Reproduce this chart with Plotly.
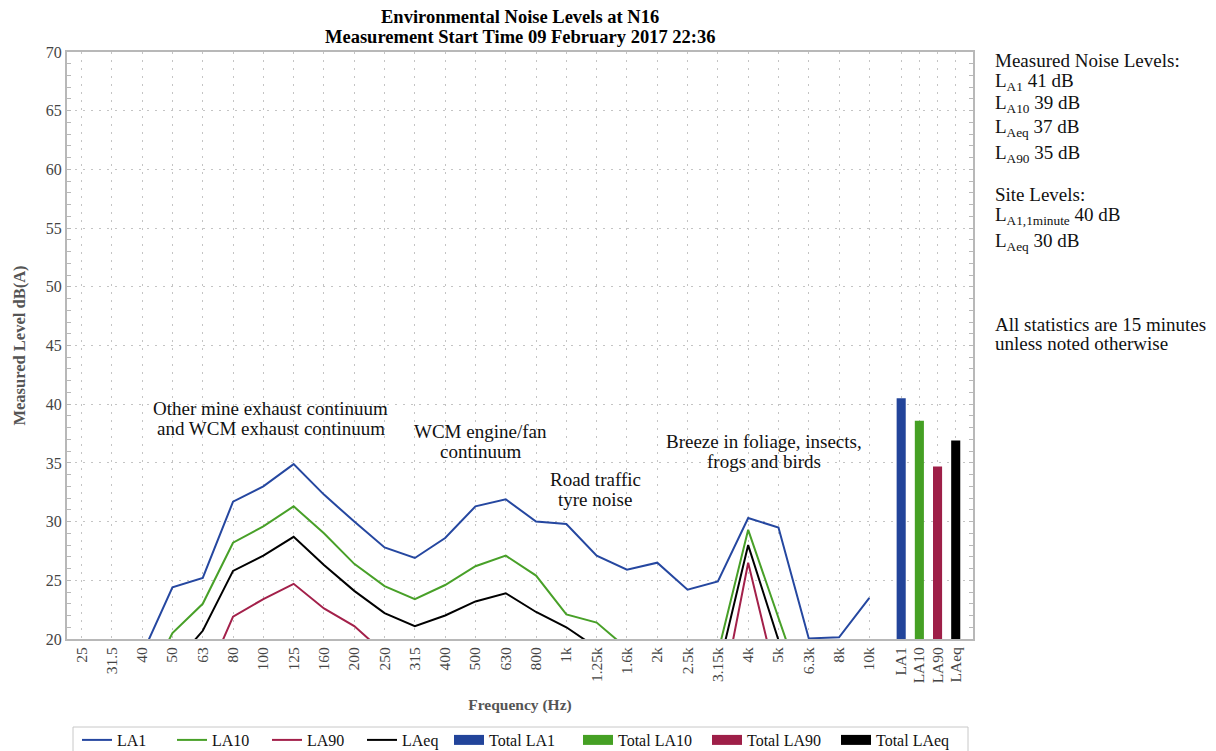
import plotly.graph_objects as go

# ---------------- data ----------------
freq_labels = ["25", "31.5", "40", "50", "63", "80", "100", "125", "160", "200",
               "250", "315", "400", "500", "630", "800", "1k", "1.25k", "1.6k",
               "2k", "2.5k", "3.15k", "4k", "5k", "6.3k", "8k", "10k"]
la1 = [16.0, 17.0, 18.7, 24.4, 25.2, 31.7, 33.0, 34.9, 32.3, 30.0, 27.8, 26.9,
       28.6, 31.3, 31.9, 30.0, 29.8, 27.1, 25.9, 26.5, 24.2, 24.9, 30.3, 29.5,
       20.05, 20.15, 23.5]
la10 = [13.0, 14.0, 15.5, 20.5, 23.0, 28.2, 29.6, 31.3, 29.0, 26.4, 24.5, 23.4,
        24.6, 26.2, 27.1, 25.4, 22.1, 21.4, 19.2, 17.0, 16.0, 18.8, 29.3, 21.8,
        14.3, 13.0, 14.0]
la90 = [10.0, 11.0, 12.0, 14.0, 16.0, 21.9, 23.4, 24.7, 22.6, 21.1, 18.8, 17.0,
        17.5, 18.0, 18.5, 17.5, 16.0, 15.0, 14.0, 13.0, 12.0, 13.3, 26.5, 15.8,
        10.0, 9.0, 10.0]
laeq = [12.0, 13.0, 14.5, 17.7, 20.7, 25.8, 27.1, 28.7, 26.3, 24.1, 22.2, 21.1,
        22.0, 23.2, 23.9, 22.3, 21.0, 19.25, 17.5, 17.0, 16.0, 17.2, 28.0, 19.9,
        13.0, 12.0, 13.0]
total_labels = ["LA1", "LA10", "LA90", "LAeq"]
total_values = [40.5, 38.6, 34.7, 36.9]
title_lines = ["Environmental Noise Levels at N16",
               "Measurement Start Time 09 February 2017 22:36"]

# ---------------- styling ----------------
FONT = "Liberation Serif"
C_BLUE, C_GREEN, C_RED, C_BLACK = "#2547a0", "#48a028", "#a3204a", "#000000"
BAR_COLORS = ["#22449a", "#45a024", "#9e1f48", "#000000"]
GRID = "#c4c4c4"
AXIS = "#b8b8b8"

x_freq = list(range(len(freq_labels)))
x_tot = [len(freq_labels) + 0.05 + 0.6 * k for k in range(len(total_labels))]

fig = go.Figure()
for name, vals, col in [("LA1", la1, C_BLUE), ("LA10", la10, C_GREEN),
                        ("LA90", la90, C_RED), ("LAeq", laeq, C_BLACK)]:
    fig.add_trace(go.Scatter(x=x_freq, y=vals, mode="lines", name=name,
                             line=dict(color=col, width=2), legend="legend"))
for k, (lab, val, col) in enumerate(zip(total_labels, total_values, BAR_COLORS)):
    fig.add_trace(go.Bar(x=[x_tot[k]], y=[val], name="Total " + lab,
                         marker=dict(color=col, line=dict(width=0)), width=0.3,
                         showlegend=False))
    # legend-only entry with a wide block symbol
    fig.add_trace(go.Scatter(x=[None], y=[None], mode="lines", name="Total " + lab,
                             line=dict(color=col, width=10), legend="legend2"))

# the page body adds an 8px offset; lay out in screen pixels and subtract it
OFF = 8
W, H = 1216 - OFF, 751 - OFF
L, T = 67 - OFF, 52 - OFF
pw, ph = 906, 587
R, B = W - L - pw, H - T - ph

def px_x(p):  # screen px -> paper
    return (p - OFF - L) / pw

def px_y(p):
    return (T + ph - (p - OFF)) / ph

fig.update_layout(
    width=W, height=H,
    margin=dict(l=L, r=R, t=T, b=B, autoexpand=False),
    paper_bgcolor="white", plot_bgcolor="white",
    font=dict(family=FONT, size=16, color="#222"),
    showlegend=True,
    barmode="overlay",
    legend=dict(orientation="h", xref="container", yref="container",
                x=(82 - 5 - OFF) / W, xanchor="left", y=1 - (723 - OFF) / H, yanchor="top",
                font=dict(size=16, color="#111"), entrywidth=50, entrywidthmode="pixels",
                bgcolor="rgba(0,0,0,0)", borderwidth=0, traceorder="normal"),
    legend2=dict(orientation="h", xref="container", yref="container",
                 x=(455 - 6 - OFF) / W, xanchor="left", y=1 - (723 - OFF) / H, yanchor="top",
                 font=dict(size=16, color="#111"), entrywidth=84, entrywidthmode="pixels",
                 bgcolor="rgba(0,0,0,0)", borderwidth=0, traceorder="normal"),
)

fig.update_xaxes(
    range=[-0.48, 29.42], automargin=False,
    tickmode="array", tickvals=x_freq + x_tot, ticktext=freq_labels + total_labels,
    tickangle=-90, tickfont=dict(size=15.5, color="#444"),
    showgrid=True, gridcolor=GRID, griddash="2px,6px", gridwidth=1,
    showline=True, linecolor=AXIS, linewidth=2, mirror=True,
    ticks="", zeroline=False,
    title=dict(text="<b>Frequency (Hz)</b>", font=dict(size=15.5, color="#555"), standoff=17),
)
fig.update_yaxes(
    range=[20, 70], dtick=5, tick0=20, automargin=False,
    tickfont=dict(size=16, color="#444"),
    showgrid=True, gridcolor=GRID, griddash="2px,6px", gridwidth=1,
    showline=True, linecolor=AXIS, linewidth=2, mirror="ticks",
    ticks="inside", ticklen=4, tickcolor=AXIS,
    minor=dict(dtick=1, ticks="inside", ticklen=4, tickcolor=AXIS, showgrid=False),
    zeroline=False,
    title=dict(text="<b>Measured Level dB(A)</b>", font=dict(size=16.5, color="#555"), standoff=16),
)

# title, two lines with tight spacing
for txt, py in zip(title_lines, [17, 37]):
    fig.add_annotation(text="<b>" + txt + "</b>", x=(pw / 2) / pw, y=px_y(py),
                       xref="paper", yref="paper", xanchor="center", yanchor="middle",
                       showarrow=False, font=dict(family=FONT, size=18.5, color="#000"))

# in-plot annotations (centre position; lines spaced ~20px)
notes = [
    (["Other mine exhaust continuum", "and WCM exhaust continuum"], 6.25, 38.8),
    (["WCM engine/fan", "continuum"], 13.15, 36.8),
    (["Road traffic", "tyre noise"], 16.95, 32.7),
    (["Breeze in foliage, insects,", "frogs and birds"], 22.52, 36.0),
]
LINE_GAP = 20
for lines, xx, yy in notes:
    n = len(lines)
    for i, ln in enumerate(lines):
        fig.add_annotation(text=ln, x=xx, y=yy, xref="x", yref="y", showarrow=False,
                           yshift=-(i - (n - 1) / 2) * LINE_GAP,
                           font=dict(family=FONT, size=19, color="#111"), align="center")

# right-hand notes (screen y of each line)
side = [
    ("Measured Noise Levels:", 60),
    ("L<sub>A1</sub> 41 dB", 82),
    ("L<sub>A10</sub> 39 dB", 104),
    ("L<sub>Aeq</sub> 37 dB", 128),
    ("L<sub>A90</sub> 35 dB", 154),
    ("Site Levels:", 195),
    ("L<sub>A1,1minute</sub> 40 dB", 216),
    ("L<sub>Aeq</sub> 30 dB", 242),
    ("All statistics are 15 minutes", 324),
    ("unless noted otherwise", 343),
]
for txt, py in side:
    fig.add_annotation(text=txt, x=px_x(993), y=px_y(py), xref="paper", yref="paper",
                       xanchor="left", yanchor="middle", showarrow=False,
                       font=dict(family=FONT, size=19, color="#111"), align="left")

# legend frame
fig.add_shape(type="rect", xref="paper", yref="paper",
              x0=px_x(73), x1=px_x(968), y0=px_y(727), y1=px_y(770),
              line=dict(color="#c8c8c8", width=1), fillcolor="rgba(0,0,0,0)", layer="below")

fig.write_html("out.html")
